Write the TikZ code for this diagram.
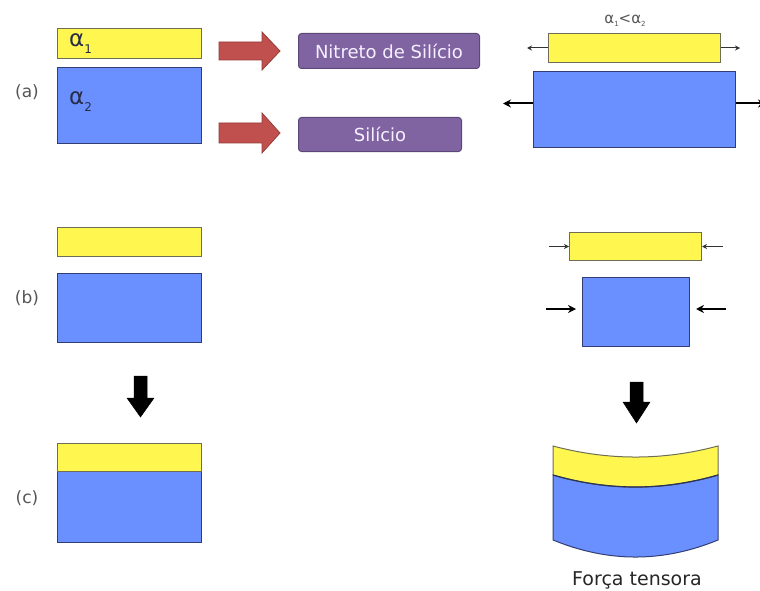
\documentclass[tikz,border=0pt]{standalone}
\usepackage{fontspec}
\setmainfont{DejaVu Sans}
\usetikzlibrary{arrows.meta}
\definecolor{yfill}{RGB}{255,247,80}
\definecolor{ydraw}{RGB}{110,110,85}
\definecolor{bfill}{RGB}{106,143,255}
\definecolor{bdraw}{RGB}{50,62,115}
\definecolor{rfill}{RGB}{192,80,77}
\definecolor{rdraw}{RGB}{150,60,58}
\definecolor{pfill}{RGB}{128,100,162}
\definecolor{pdraw}{RGB}{92,72,120}
\definecolor{ptext}{RGB}{245,240,255}
\definecolor{lab}{RGB}{85,85,85}
\definecolor{alab}{RGB}{40,45,70}
\tikzset{
  ybox/.style={draw=ydraw, fill=yfill, line width=1pt, inner sep=0pt, anchor=north west},
  bbox/.style={draw=bdraw, fill=bfill, line width=1pt, inner sep=0pt, anchor=north west},
  pbox/.style={draw=pdraw, fill=pfill, line width=1pt, rounded corners=3pt, inner sep=0pt, anchor=north west},
  ptxt/.style={text=ptext, font=\fontsize{18}{20}\selectfont, inner sep=0pt},
  redarrow/.style={draw=rdraw, fill=rfill, line width=0.8pt, line join=miter},
  blockarrow/.style={fill=black, draw=black, line width=0.5pt},
  smallarr/.style={-{Stealth[length=5pt,width=5pt]}, line width=1pt, black!80},
  bigarr/.style={-{Stealth[length=8pt,width=8pt]}, line width=2pt, black},
  partlab/.style={text=lab, font=\fontsize{17}{19}\selectfont},
  alphalab/.style={text=alab, font=\fontsize{23}{24}\selectfont, anchor=base west, inner sep=0pt},
}
\newcommand{\lowsub}[1]{\raisebox{-7pt}{\fontsize{12}{13}\selectfont #1}}
\newcommand{\tinysub}[1]{\raisebox{-3pt}{\fontsize{7}{8}\selectfont #1}}
\begin{document}
\begin{tikzpicture}[x=1pt,y=-1pt]
\useasboundingbox (0,0) rectangle (760,591);

% ---------- (a) left ----------
\node[ybox, minimum width=144pt, minimum height=30pt] (ya) at (57,28) {};
\node[bbox, minimum width=144pt, minimum height=76pt] (ba) at (57,67) {};
\node[alphalab] (a1) at (69,47) {α\lowsub{1}};
\node[alphalab] (a2) at (69,105) {α\lowsub{2}};
\node[partlab] (la) at (27,92) {(a)};

% red arrows
\draw[redarrow] (219,42) -- (262,42) -- (262,32) -- (280,51) -- (262,70) -- (262,60) -- (219,60) -- cycle;
\draw[redarrow] (219,123) -- (262,123) -- (262,113) -- (280,133) -- (262,153) -- (262,143) -- (219,143) -- cycle;

% purple boxes
\node[pbox, minimum width=181pt, minimum height=35pt] (p1) at (298,33) {};
\node[ptxt] (t1) at (p1.center) {Nitreto de Silício};
\node[pbox, minimum width=163pt, minimum height=34pt] (p2) at (298,117) {};
\node[ptxt] (t2) at (p2.center) {Silício};

% ---------- (a) right ----------
\node[ybox, minimum width=172pt, minimum height=29pt] (yr) at (548,33) {};
\node[bbox, minimum width=202pt, minimum height=76pt] (br) at (533,71) {};
\node[text=lab, font=\fontsize{15}{16}\selectfont, inner sep=0pt, anchor=base] (cmp) at (625,24) {α\tinysub{1}<α\tinysub{2}};
\coordinate (yrl) at ([xshift=-21pt]yr.west);
\coordinate (yrr) at ([xshift=19pt]yr.east);
\coordinate (brl) at ([xshift=-30pt,yshift=6pt]br.west);
\coordinate (brr) at ([xshift=30pt,yshift=6pt]br.east);
\draw[smallarr] (yr.west) -- (yrl);
\draw[smallarr] (yr.east) -- (yrr);
\draw[bigarr] (br.west |- brl) -- (brl);
\draw[bigarr] (br.east |- brr) -- (brr);

% ---------- (b) left ----------
\node[ybox, minimum width=144pt, minimum height=29pt] (yb) at (57,227) {};
\node[bbox, minimum width=144pt, minimum height=69pt] (bb) at (57,273) {};
\node[partlab] (lb) at (27,298) {(b)};

% down arrow left
\draw[blockarrow] (134,376) -- (147,376) -- (147,398) -- (154,398) -- (140.5,417) -- (127,398) -- (134,398) -- cycle;

% ---------- (c) left ----------
\node[bbox, minimum width=144pt, minimum height=71pt] (bc) at (57,471) {};
\node[ybox, minimum width=144pt, minimum height=28pt] (yc) at (57,443) {};
\node[partlab] (lc) at (27,498) {(c)};

% ---------- (b) right ----------
\node[ybox, minimum width=132pt, minimum height=28pt] (ybr) at (569,232) {};
\node[bbox, minimum width=107pt, minimum height=69pt] (bbr) at (582,277) {};
\coordinate (ybrl) at ([xshift=-20pt]ybr.west);
\coordinate (ybrr) at ([xshift=21pt]ybr.east);
\coordinate (bbrl) at ([xshift=-36pt,yshift=3pt]bbr.west);
\coordinate (bbrr) at ([xshift=36pt,yshift=3pt]bbr.east);
\draw[smallarr] (ybrl) -- (ybr.west);
\draw[smallarr] (ybrr) -- (ybr.east);
\draw[bigarr, shorten >=6pt] (bbrl) -- (bbrl -| bbr.west);
\draw[bigarr, shorten >=6pt] (bbrr) -- (bbrr -| bbr.east);

% down arrow right
\draw[blockarrow] (630,382) -- (643,382) -- (643,402) -- (650,402) -- (636.5,423) -- (623,402) -- (630,402) -- cycle;

% ---------- (c) right: bent bilayer ----------
\draw[draw=bdraw, fill=bfill, line width=1pt]
  (553,475) .. controls (608.3,491) and (662.7,491) .. (718,475)
  -- (718,540) .. controls (662.7,562.7) and (608.3,562.7) .. (553,540) -- cycle;
\draw[draw=ydraw, fill=yfill, line width=1pt]
  (553,446) .. controls (608.3,460.7) and (662.7,460.7) .. (718,446)
  -- (718,475) .. controls (662.7,491) and (608.3,491) .. (553,475) -- cycle;
\draw[draw=bdraw!80!black, line width=1.2pt]
  (553,475) .. controls (608.3,491) and (662.7,491) .. (718,475);
\node[text=black!85, font=\fontsize{19}{21}\selectfont] (ft) at (637,580) {Força tensora};

\end{tikzpicture}
\end{document}
